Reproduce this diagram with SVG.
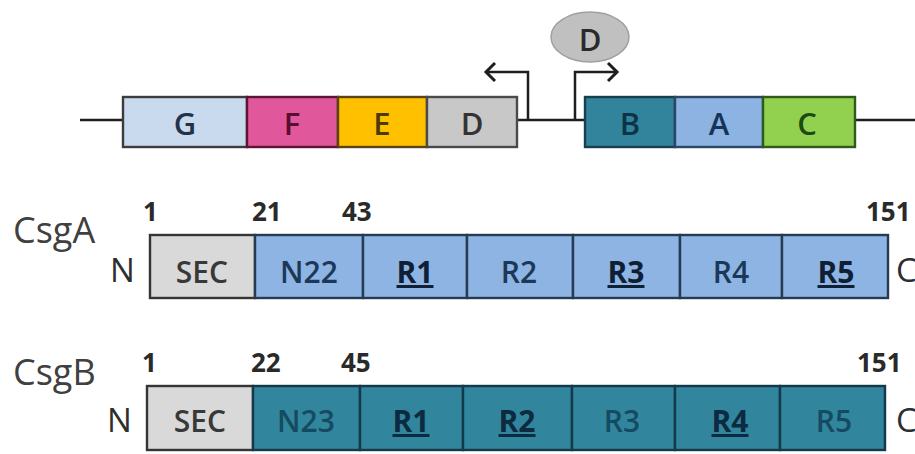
<svg xmlns="http://www.w3.org/2000/svg" width="915" height="454" viewBox="0 0 915 454">
  <style>
    .lbl { font-family: "Open Sans", "Liberation Sans", sans-serif; text-anchor: middle; font-weight: 600; }
    .gene { font-size: 31px; }
    .dom { font-size: 30px; }
    .key { font-weight: bold; text-decoration: underline; }
    .num { font-family: "Open Sans", "Liberation Sans", sans-serif; font-size: 26px; font-weight: bold; fill: #2a2a2a; }
    .name { font-family: "Open Sans", "Liberation Sans", sans-serif; font-size: 36px; fill: #404040; }
    .term { font-family: "Open Sans", "Liberation Sans", sans-serif; font-size: 33px; fill: #2e2e2e; }
    .wire { fill: none; stroke: #1e1e1e; stroke-width: 2.5; }
    .cell { stroke-width: 2.4; }
    .a-cell { fill: #8db4e2; stroke: #263a52; }
    .b-cell { fill: #31859c; stroke: #14394a; }
    .sec { fill: #d9d9d9; stroke: #353535; }
  </style>
  <defs>
    <marker id="chev" markerUnits="userSpaceOnUse" markerWidth="14" markerHeight="22" refX="11" refY="11" orient="auto">
      <path d="M2,2 L11,11 L2,20" fill="none" stroke="#1e1e1e" stroke-width="3"/>
    </marker>
  </defs>

  <rect width="915" height="454" fill="#ffffff"/>

  <!-- backbone and promoters -->
  <g id="connectors">
    <line class="wire" x1="80" y1="120" x2="915" y2="120"/>
    <path class="wire" d="M528,120 V72 H486" marker-end="url(#chev)"/>
    <path class="wire" d="M575,120 V72 H617" marker-end="url(#chev)"/>
  </g>

  <!-- operon genes -->
  <g id="gene-G">
    <rect class="cell" x="123" y="97" width="124" height="50" fill="#c9d9ee" stroke="#3c3c3c"/>
    <text class="lbl gene" x="185" y="135" fill="#1f3448">G</text>
  </g>
  <g id="gene-F">
    <rect class="cell" x="247" y="97" width="91" height="50" fill="#e0579b" stroke="#5e1533"/>
    <text class="lbl gene" x="292" y="135" fill="#5a0d2d">F</text>
  </g>
  <g id="gene-E">
    <rect class="cell" x="338" y="97" width="89" height="50" fill="#ffc000" stroke="#5a4310"/>
    <text class="lbl gene" x="382" y="135" fill="#4d3a08">E</text>
  </g>
  <g id="gene-D">
    <rect class="cell" x="427" y="97" width="90" height="50" fill="#c8c8c8" stroke="#4a4a4a"/>
    <text class="lbl gene" x="472" y="135" fill="#333333">D</text>
  </g>
  <g id="gene-B">
    <rect class="cell" x="585" y="97" width="90" height="50" fill="#31849b" stroke="#173f4c"/>
    <text class="lbl gene" x="630" y="135" fill="#0f3346">B</text>
  </g>
  <g id="gene-A">
    <rect class="cell" x="675" y="97" width="88" height="50" fill="#8db3e2" stroke="#2c4764"/>
    <text class="lbl gene" x="719" y="135" fill="#15345a">A</text>
  </g>
  <g id="gene-C">
    <rect class="cell" x="763" y="97" width="92" height="50" fill="#92d050" stroke="#2f5a1c"/>
    <text class="lbl gene" x="807" y="135" fill="#1d4a12">C</text>
  </g>

  <!-- CsgD regulator -->
  <g id="regulator-D">
    <ellipse cx="590" cy="37" rx="39" ry="25" fill="#c0c0c0" stroke="#a0a0a0" stroke-width="1.5"/>
    <text class="lbl" x="590" y="51" font-size="31" fill="#2a2a2a">D</text>
  </g>

  <!-- CsgA domain map -->
  <g id="csgA">
    <text class="name" x="13" y="243">CsgA</text>
    <text class="term" x="110" y="282">N</text>
    <text class="term" x="896" y="282">C</text>
    <text class="num" x="143" y="221">1</text>
    <text class="num" x="252" y="221">21</text>
    <text class="num" x="342" y="221">43</text>
    <text class="num" x="866" y="221">151</text>
    <rect class="cell sec" x="150" y="235" width="105" height="63"/>
    <rect class="cell a-cell" x="255" y="235" width="108" height="63"/>
    <rect class="cell a-cell" x="363" y="235" width="104" height="63"/>
    <rect class="cell a-cell" x="467" y="235" width="106" height="63"/>
    <rect class="cell a-cell" x="573" y="235" width="107" height="63"/>
    <rect class="cell a-cell" x="680" y="235" width="102" height="63"/>
    <rect class="cell a-cell" x="782" y="235" width="106" height="63"/>
    <text class="lbl dom" x="202" y="283" fill="#383838">SEC</text>
    <text class="lbl dom" x="309" y="283" fill="#1b3859">N22</text>
    <text class="lbl dom key" x="415" y="283" fill="#0f1f36">R1</text>
    <text class="lbl dom" x="519" y="283" fill="#1b3859">R2</text>
    <text class="lbl dom key" x="626" y="283" fill="#0f1f36">R3</text>
    <text class="lbl dom" x="731" y="283" fill="#1b3859">R4</text>
    <text class="lbl dom key" x="836" y="283" fill="#0f1f36">R5</text>
  </g>

  <!-- CsgB domain map -->
  <g id="csgB">
    <text class="name" x="13" y="385">CsgB</text>
    <text class="term" x="107" y="432">N</text>
    <text class="term" x="896" y="432">C</text>
    <text class="num" x="142" y="372">1</text>
    <text class="num" x="251" y="372">22</text>
    <text class="num" x="341" y="372">45</text>
    <text class="num" x="857" y="372">151</text>
    <rect class="cell sec" x="147" y="386" width="106" height="64"/>
    <rect class="cell b-cell" x="253" y="386" width="107" height="64"/>
    <rect class="cell b-cell" x="360" y="386" width="103" height="64"/>
    <rect class="cell b-cell" x="463" y="386" width="109" height="64"/>
    <rect class="cell b-cell" x="572" y="386" width="103" height="64"/>
    <rect class="cell b-cell" x="675" y="386" width="105" height="64"/>
    <rect class="cell b-cell" x="780" y="386" width="105" height="64"/>
    <text class="lbl dom" x="200" y="432" fill="#383838">SEC</text>
    <text class="lbl dom" x="306" y="432" fill="#154b61">N23</text>
    <text class="lbl dom key" x="411" y="432" fill="#0c2a40">R1</text>
    <text class="lbl dom key" x="517" y="432" fill="#0c2a40">R2</text>
    <text class="lbl dom" x="622" y="432" fill="#154b61">R3</text>
    <text class="lbl dom key" x="730" y="432" fill="#0c2a40">R4</text>
    <text class="lbl dom" x="834" y="432" fill="#154b61">R5</text>
  </g>
</svg>
